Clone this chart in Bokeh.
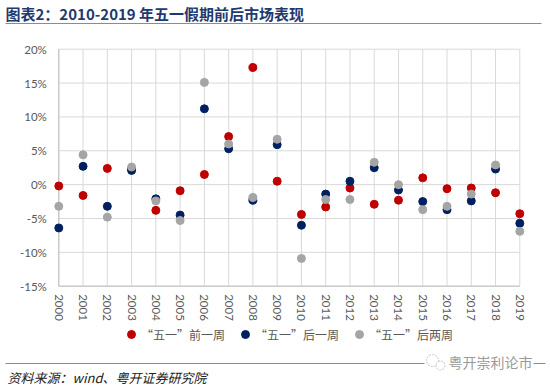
from bokeh.plotting import figure
from bokeh.models import Range1d, FixedTicker, PrintfTickFormatter, Legend, LegendItem
from bokeh.embed import file_html
from bokeh.resources import INLINE
from bokeh.core.properties import value

# ---- data ----
years = list(range(2000, 2020))
week_before = [-0.2, -1.6, 2.4, 2.3, -3.8, -0.9, 1.5, 7.1, 17.3, 0.5,
               -4.4, -3.3, -0.5, -2.9, -2.3, 1.0, -0.6, -0.5, -1.2, -4.3]
week_after1 = [-6.4, 2.7, -3.2, 2.1, -2.1, -4.5, 11.2, 5.3, -2.3, 5.9,
               -6.0, -1.4, 0.5, 2.5, -0.8, -2.5, -3.7, -2.4, 2.3, -5.7]
week_after2 = [-3.2, 4.4, -4.8, 2.6, -2.4, -5.3, 15.1, 6.0, -1.9, 6.7,
               -10.9, -2.2, -2.2, 3.3, 0.0, -3.7, -3.2, -1.4, 2.9, -6.9]
y_ticks = [-15, -10, -5, 0, 5, 10, 15, 20]
series_names = ["“五一”前一周", "“五一”后一周", "“五一”后两周"]
series_colors = ["#C00000", "#002060", "#A5A5A5"]
title_text = "图表2：2010-2019 年五一假期前后市场表现"
source_text = "资料来源：wind、粤开证券研究院"
mark_text = "粤开崇利论市"

# ---- layout constants (pixels on the 550x387 canvas) ----
W, H = 550, 387
PX_FIRST, PX_LAST = 58.3, 519.3      # x pixel of first / last year
PY_TOP, PY_BOT = 48.7, 285.7         # y pixel of top / bottom tick
kx = (PX_LAST - PX_FIRST) / (years[-1] - years[0])
ky = (PY_BOT - PY_TOP) / (y_ticks[-1] - y_ticks[0])
X0 = years[0] - PX_FIRST / kx
X1 = X0 + W / kx
Y1 = y_ticks[-1] + PY_TOP / ky
Y0 = Y1 - H / ky


def dx(px):
    return X0 + px / kx


def dy(py):
    return Y1 - py / ky


LBL_FONT = "Lato"
CJK = "Noto Sans CJK SC"

p = figure(width=W, height=H, x_range=Range1d(X0, X1), y_range=Range1d(Y0, Y1),
           toolbar_location=None, output_backend="svg", min_border=0)
p.outline_line_color = None
p.grid.visible = False

# grid lines over the category span only
p.multi_line(xs=[[years[0], years[-1]] for _ in y_ticks], ys=[[t, t] for t in y_ticks],
             line_color="#D9D9D9", line_width=1)
p.multi_line(xs=[[yr, yr] for yr in years], ys=[[y_ticks[0], y_ticks[-1]] for _ in years],
             line_color="#D9D9D9", line_width=1)
p.multi_line(xs=[[years[0], years[0]], [years[0], years[-1]]],
             ys=[[y_ticks[0], y_ticks[-1]], [y_ticks[0], y_ticks[0]]],
             line_color="#BFBFBF", line_width=1)

# series (gray drawn last, on top)
renderers = []
for vals, col in zip([week_before, week_after1, week_after2], series_colors):
    r = p.scatter(x=years, y=vals, size=8, marker="circle", fill_color=col, line_color=col)
    renderers.append(r)

# axes drawn at the data origin corner
for ax in (p.xaxis, p.yaxis):
    ax.axis_line_color = None
    ax.major_tick_line_color = None
    ax.minor_tick_line_color = None
    ax.major_tick_out = 0
    ax.major_tick_in = 0
    ax.major_label_text_font = LBL_FONT
    ax.major_label_text_font_size = "11.5px"
    ax.major_label_text_color = "#595959"

p.xaxis.fixed_location = y_ticks[0]
p.xaxis.ticker = FixedTicker(ticks=years)
p.xaxis.major_label_orientation = "vertical"
p.xaxis.major_label_standoff = 8
p.yaxis.fixed_location = years[0]
p.yaxis.ticker = FixedTicker(ticks=y_ticks)
p.yaxis.formatter = PrintfTickFormatter(format="%d%%")
p.yaxis.major_label_standoff = 12

legend = Legend(items=[LegendItem(label=n, renderers=[r]) for n, r in zip(series_names, renderers)],
                orientation="horizontal", location=(121, 43),
                glyph_width=20, glyph_height=20, label_standoff=0, spacing=10,
                padding=2, margin=0, border_line_color=None, background_fill_alpha=0,
                label_text_font=CJK, label_text_font_size="12px", label_text_color="#595959",
                label_text_baseline="middle")
p.add_layout(legend, "center")

# title and rule
p.text(x=[dx(5)], y=[dy(13)], text=[title_text], text_font=value(CJK),
       text_font_style="bold", text_font_size="15px", text_color="#1F3A6E",
       text_baseline="middle", text_align="left")
p.multi_line(xs=[[dx(5), dx(541)]], ys=[[dy(23), dy(23)]], line_color="#8C8C8C", line_width=1)

# footer rule, faint logo, watermark and source note
p.multi_line(xs=[[dx(5), dx(424)], [dx(533), dx(545)]], ys=[[dy(363), dy(363)], [dy(363), dy(363)]],
             line_color="#8C8C8C", line_width=1)
p.scatter(x=[dx(432), dx(440)], y=[dy(360), dy(365)], size=[12, 9], marker="circle",
          fill_color="white", line_color="#C8C8C8", line_width=1, line_dash="2 1")
p.text(x=[dx(448)], y=[dy(361)], text=[mark_text], text_font=value(CJK), text_font_size="14px",
       text_color="#9A9A9A", text_baseline="middle", text_align="left")
p.text(x=[dx(7)], y=[dy(377)], text=[source_text], text_font=value(CJK), text_font_style="italic",
       text_font_size="13px", text_color="#222222", text_baseline="middle", text_align="left")

open("out.html", "w").write(file_html(p, INLINE))
